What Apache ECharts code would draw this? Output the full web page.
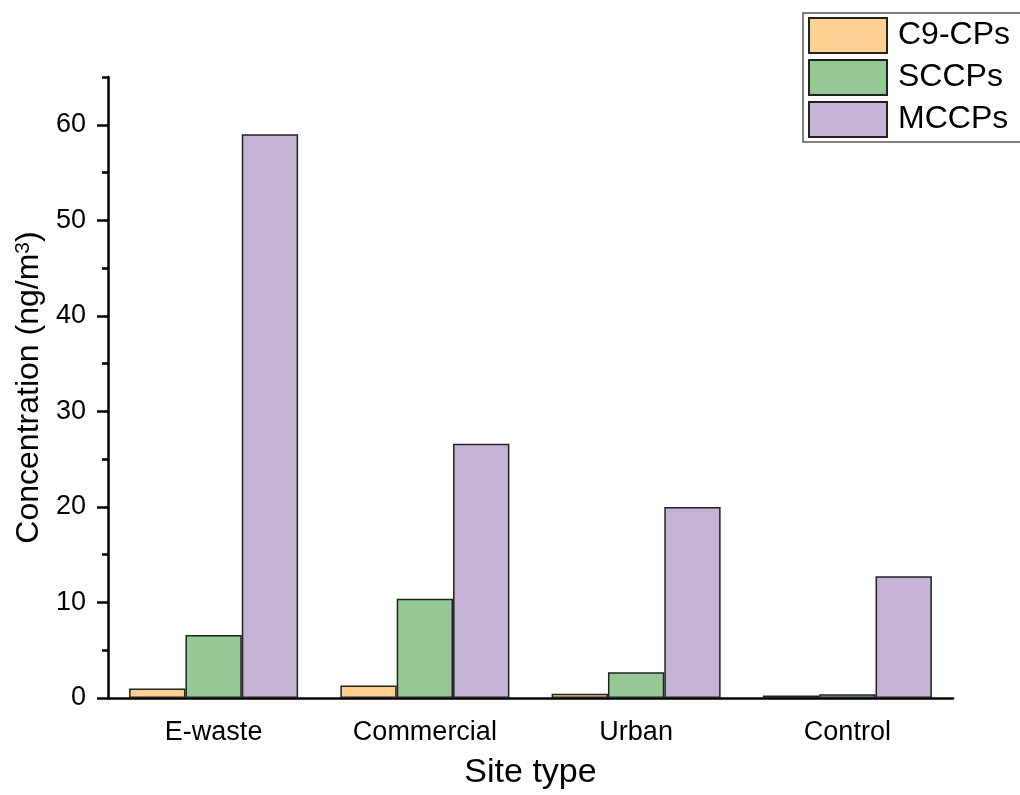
<!DOCTYPE html>
<html>
<head>
<meta charset="utf-8">
<script src="https://cdn.jsdelivr.net/npm/echarts@6/dist/echarts.min.js"></script>
<style>html,body{margin:0;padding:0;background:#fff;}#c{width:1020px;height:795px;}</style>
</head>
<body>
<div id="c"></div>
<script>
const categories = ['E-waste', 'Commercial', 'Urban', 'Control'];
const c9cps = [1.0, 1.3, 0.45, 0.25];
const sccps = [6.6, 10.4, 2.7, 0.4];
const mccps = [59.0, 26.6, 20.0, 12.75];
const yMajorTicks = [0, 10, 20, 30, 40, 50, 60];
const yMinorTicks = [5, 15, 25, 35, 45, 55, 65];

const FONT = 'Arial, "Liberation Sans", sans-serif';
const chart = echarts.init(document.getElementById('c'));
const barStyle = (c) => ({ color: c, borderColor: '#222', borderWidth: 1.5 });

chart.setOption({
  backgroundColor: '#fff',
  animation: false,
  textStyle: { fontFamily: FONT, color: '#000' },
  grid: { left: 108, right: 67, top: 77, bottom: 96 },
  legend: {
    orient: 'vertical',
    left: 803, top: 13,
    padding: [4, 40, 4, 5],
    itemWidth: 78, itemHeight: 35, itemGap: 5,
    icon: 'rect',
    borderColor: '#555', borderWidth: 1.5,
    textStyle: { fontSize: 32, fontFamily: FONT, color: '#000', padding: [0, 0, 0, 6] },
    data: ['C9-CPs', 'SCCPs', 'MCCPs']
  },
  xAxis: [{
    type: 'category', data: categories, position: 'bottom',
    name: 'Site type', nameLocation: 'middle', nameGap: 58,
    nameTextStyle: { fontSize: 34, fontFamily: FONT, color: '#000' },
    axisLine: { lineStyle: { color: '#000', width: 2.5 } },
    axisTick: { alignWithLabel: true, length: 12, lineStyle: { color: '#000', width: 2.5 } },
    axisLabel: { fontSize: 27, fontFamily: FONT, color: '#000', margin: 21 }
  }, {
    type: 'category', data: categories, position: 'bottom',
    axisLine: { show: false },
    axisTick: { length: 6, lineStyle: { color: '#000', width: 2.5 } },
    axisLabel: { show: false }
  }],
  yAxis: [{
    type: 'value', min: 0, max: 65, interval: 10,
    name: 'Concentration (ng/m{s|3})', nameLocation: 'middle', nameGap: 62,
    nameTextStyle: { fontSize: 32, fontFamily: FONT, color: '#000',
      rich: { s: { fontSize: 21, fontFamily: FONT, color: '#000', verticalAlign: 'top' } } },
    splitLine: { show: false },
    axisLine: { show: true, lineStyle: { color: '#000', width: 2.5 } },
    axisTick: { show: true, length: 11, customValues: yMajorTicks, lineStyle: { color: '#000', width: 2.5 } },
    axisLabel: { fontSize: 27, fontFamily: FONT, color: '#000', margin: 22, customValues: yMajorTicks }
  }, {
    type: 'value', min: 0, max: 65, interval: 5, position: 'left',
    splitLine: { show: false },
    axisLine: { show: false },
    axisTick: { show: true, length: 6, customValues: yMinorTicks, lineStyle: { color: '#000', width: 2.5 } },
    axisLabel: { show: false }
  }],
  series: [
    { name: 'C9-CPs', type: 'bar', data: c9cps, barGap: '0%', barCategoryGap: '20%', itemStyle: barStyle('#FFD092') },
    { name: 'SCCPs', type: 'bar', data: sccps, barGap: '0%', barCategoryGap: '20%', itemStyle: barStyle('#96C896') },
    { name: 'MCCPs', type: 'bar', data: mccps, barGap: '0%', barCategoryGap: '20%', itemStyle: barStyle('#C5B3D6') }
  ]
});
</script>
</body>
</html>
